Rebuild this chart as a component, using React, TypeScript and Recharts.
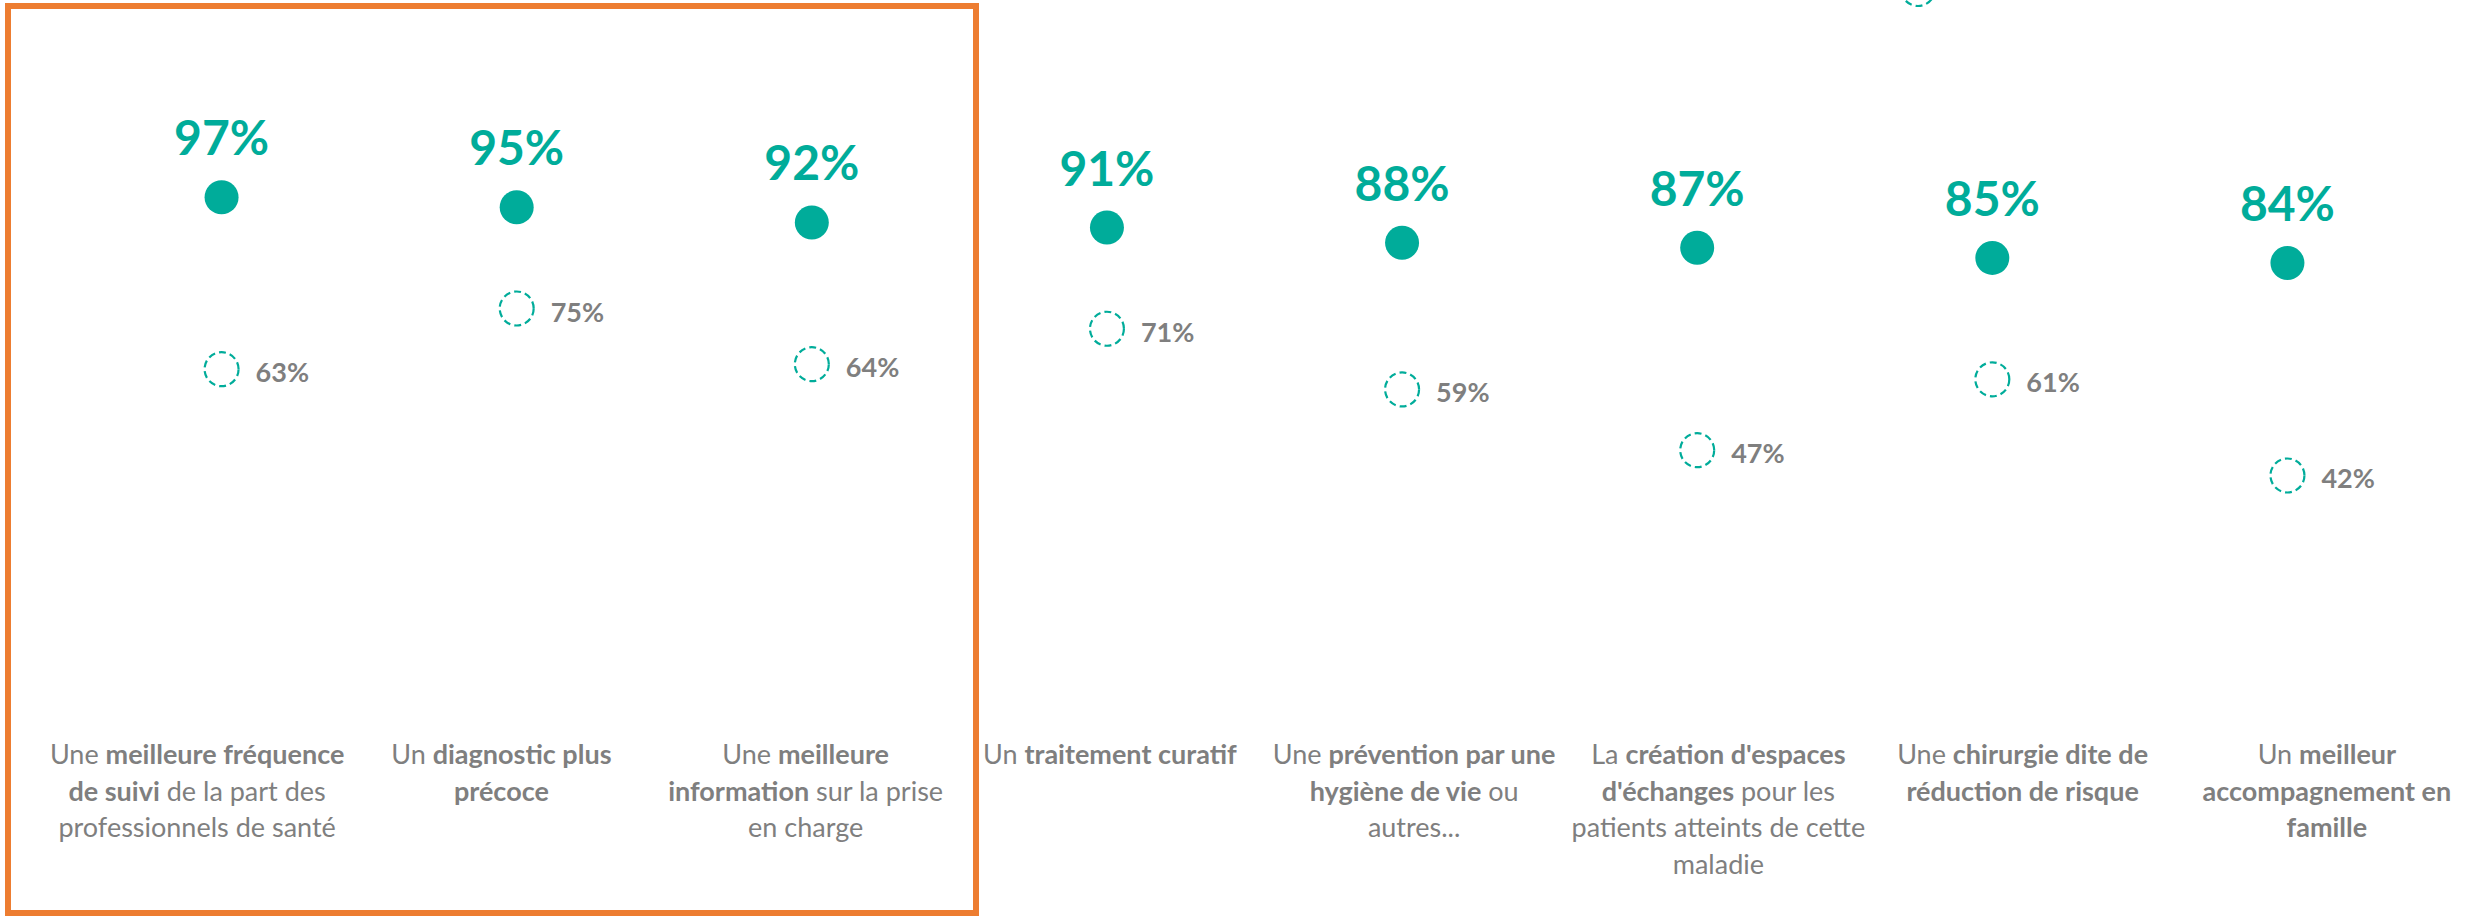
import React from 'react';
import { ComposedChart, Line, XAxis, YAxis, LabelList } from 'recharts';

type Seg = [string, boolean];

const TEAL = '#00AC9A';
const GREY = '#7F7F7F';
const ORANGE = '#ED7D31';
const FONT = "Lato, 'Open Sans', sans-serif";

const categories = [
  'Une meilleure fréquence de suivi de la part des professionnels de santé',
  'Un diagnostic plus précoce',
  'Une meilleure information sur la prise en charge',
  'Un traitement curatif',
  'Une prévention par une hygiène de vie ou autres...',
  "La création d'espaces d'échanges pour les patients atteints de cette maladie",
  'Une chirurgie dite de réduction de risque',
  'Un meilleur accompagnement en famille',
];

// tick label lines, [text, bold]
const categoryLines: Seg[][][] = [
  [[['Une ', false], ['meilleure fréquence', true]], [['de suivi', true], [' de la part des', false]], [['professionnels de santé', false]]],
  [[['Un ', false], ['diagnostic plus', true]], [['précoce', true]]],
  [[['Une ', false], ['meilleure', true]], [['information', true], [' sur la prise', false]], [['en charge', false]]],
  [[['Un ', false], ['traitement curatif', true]]],
  [[['Une ', false], ['prévention par une', true]], [['hygiène de vie', true], [' ou', false]], [['autres...', false]]],
  [[['La ', false], ["création d'espaces", true]], [["d'échanges", true], [' pour les', false]], [['patients atteints de cette', false]], [['maladie', false]]],
  [[['Une ', false], ['chirurgie dite de', true]], [['réduction de risque', true]]],
  [[['Un ', false], ['meilleur', true]], [['accompagnement en', true]], [['famille', true]]],
];

const mainValues = [97, 95, 92, 91, 88, 87, 85, 84];
const otherValues = [63, 75, 64, 71, 59, 47, 61, 42];

const data = categories.map((name, i) => ({
  name,
  main: mainValues[i],
  other: otherValues[i],
}));

const CategoryTick = (props: any) => {
  const { x, y, payload } = props;
  const idx = payload.index ?? categories.indexOf(payload.value);
  const lines = categoryLines[idx] || [];
  return (
    <text textAnchor="middle" fill={GREY} fontFamily={FONT} fontSize={27} style={{ whiteSpace: 'pre' }}>
      {lines.map((line, li) => (
        <tspan key={li} x={x} y={y + 46 + li * 36.7}>
          {line.map(([t, b], si) => (
            <tspan key={si} fontWeight={b ? 700 : 400}>{t}</tspan>
          ))}
        </tspan>
      ))}
    </text>
  );
};

const filledDot = (p: any) => (
  <circle key={`f-${p.index}`} cx={p.cx} cy={p.cy} r={17} fill={TEAL} />
);

const hollowDot = (p: any) => (
  <circle
    key={`h-${p.index}`}
    cx={p.cx}
    cy={p.cy}
    r={17}
    fill="#fff"
    stroke={TEAL}
    strokeWidth={2.2}
    strokeDasharray="7 4"
  />
);

const mainLabel = (p: any) => (
  <text x={p.x} y={p.y - 42} textAnchor="middle" fill={TEAL} fontFamily={FONT} fontWeight={700} fontSize={48}>
    {p.value}%
  </text>
);

const otherLabel = (p: any) => (
  <text x={p.x + 34} y={p.y + 13} textAnchor="start" fill={GREY} fontFamily={FONT} fontWeight={700} fontSize={27}>
    {p.value}%
  </text>
);

const App = () => {
  return (
    <div style={{ position: 'absolute', left: 0, top: 0, width: 2481, height: 917, overflow: 'hidden', background: '#fff' }}>
      <ComposedChart width={2481} height={917} data={data} margin={{ top: 182, right: 2, bottom: 29, left: 45 }}>
        <XAxis
          xAxisId="labels"
          dataKey="name"
          scale="band"
          interval={0}
          axisLine={false}
          tickLine={false}
          tickSize={0}
          tickMargin={0}
          height={200}
          tick={<CategoryTick />}
        />
        <XAxis xAxisId="dots" dataKey="name" scale="band" hide padding={{ left: 29, right: 44 }} />
        <YAxis domain={[0, 100]} hide />
        <Line xAxisId="dots" dataKey="other" stroke="none" dot={hollowDot} activeDot={false} isAnimationActive={false}>
          <LabelList dataKey="other" content={otherLabel} />
        </Line>
        <Line xAxisId="dots" dataKey="main" stroke="none" dot={filledDot} activeDot={false} isAnimationActive={false}>
          <LabelList dataKey="main" content={mainLabel} />
        </Line>
      </ComposedChart>
      {/* highlight frame around the first three items */}
      <div
        style={{
          position: 'absolute',
          left: 5,
          top: 3,
          width: 974,
          height: 913,
          boxSizing: 'border-box',
          border: `6px solid ${ORANGE}`,
          pointerEvents: 'none',
        }}
      />
      {/* legend marker cut off at the top edge */}
      <svg style={{ position: 'absolute', left: 1898, top: -31 }} width={40} height={40}>
        <circle cx={20} cy={20} r={17} fill="none" stroke={TEAL} strokeWidth={2.2} strokeDasharray="7 4" />
      </svg>
    </div>
  );
};

export default App;
